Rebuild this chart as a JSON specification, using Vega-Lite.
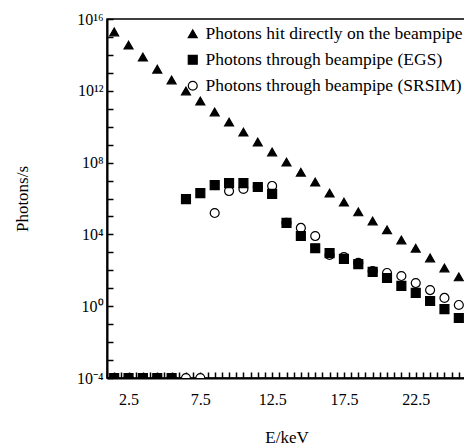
{
  "$schema": "https://vega.github.io/schema/vega-lite/v6.json",
  "width": 359,
  "height": 359,
  "autosize": {"type": "none"},
  "padding": {"left": 107, "top": 19, "right": 0, "bottom": 69},
  "background": "white",
  "config": {
    "view": {"stroke": "black", "strokeWidth": 1.5},
    "font": "Liberation Serif",
    "axis": {
      "grid": false,
      "domainColor": "black",
      "domainWidth": 2,
      "labelColor": "black",
      "titleColor": "black",
      "labelFont": "Liberation Serif",
      "titleFont": "Liberation Serif",
      "labelFontSize": 16,
      "titleFontSize": 17,
      "titleFontWeight": "normal"
    }
  },
  "data": {
    "values": [
      {"E": 1.5, "N": 0.0001, "series": "SRSIM"},
      {"E": 2.5, "N": 0.0001, "series": "SRSIM"},
      {"E": 3.5, "N": 0.0001, "series": "SRSIM"},
      {"E": 4.5, "N": 0.0001, "series": "SRSIM"},
      {"E": 5.5, "N": 0.0001, "series": "SRSIM"},
      {"E": 6.5, "N": 0.0001, "series": "SRSIM"},
      {"E": 7.5, "N": 0.0001, "series": "SRSIM"},
      {"E": 8.5, "N": 1.55e5, "series": "SRSIM"},
      {"E": 9.5, "N": 2.6e6, "series": "SRSIM"},
      {"E": 10.5, "N": 3.4e6, "series": "SRSIM"},
      {"E": 11.5, "N": 4.4e6, "series": "SRSIM"},
      {"E": 12.5, "N": 5.0e6, "series": "SRSIM"},
      {"E": 13.5, "N": 4.4e4, "series": "SRSIM"},
      {"E": 14.5, "N": 2.3e4, "series": "SRSIM"},
      {"E": 15.5, "N": 8.1e3, "series": "SRSIM"},
      {"E": 16.5, "N": 710, "series": "SRSIM"},
      {"E": 17.5, "N": 550, "series": "SRSIM"},
      {"E": 18.5, "N": 260, "series": "SRSIM"},
      {"E": 19.5, "N": 91, "series": "SRSIM"},
      {"E": 20.5, "N": 71, "series": "SRSIM"},
      {"E": 21.5, "N": 48, "series": "SRSIM"},
      {"E": 22.5, "N": 19.5, "series": "SRSIM"},
      {"E": 23.5, "N": 7.9, "series": "SRSIM"},
      {"E": 24.5, "N": 2.9, "series": "SRSIM"},
      {"E": 25.5, "N": 1.17, "series": "SRSIM"},
      {"E": 1.5, "N": 0.0001, "series": "EGS"},
      {"E": 2.5, "N": 0.0001, "series": "EGS"},
      {"E": 3.5, "N": 0.0001, "series": "EGS"},
      {"E": 4.5, "N": 0.0001, "series": "EGS"},
      {"E": 5.5, "N": 0.0001, "series": "EGS"},
      {"E": 6.5, "N": 9.3e5, "series": "EGS"},
      {"E": 7.5, "N": 2.0e6, "series": "EGS"},
      {"E": 8.5, "N": 5.6e6, "series": "EGS"},
      {"E": 9.5, "N": 7.2e6, "series": "EGS"},
      {"E": 10.5, "N": 7.2e6, "series": "EGS"},
      {"E": 11.5, "N": 4.4e6, "series": "EGS"},
      {"E": 12.5, "N": 1.8e6, "series": "EGS"},
      {"E": 13.5, "N": 4.4e4, "series": "EGS"},
      {"E": 14.5, "N": 8.1e3, "series": "EGS"},
      {"E": 15.5, "N": 1.7e3, "series": "EGS"},
      {"E": 16.5, "N": 910, "series": "EGS"},
      {"E": 17.5, "N": 430, "series": "EGS"},
      {"E": 18.5, "N": 220, "series": "EGS"},
      {"E": 19.5, "N": 81, "series": "EGS"},
      {"E": 20.5, "N": 37, "series": "EGS"},
      {"E": 21.5, "N": 13.5, "series": "EGS"},
      {"E": 22.5, "N": 5.5, "series": "EGS"},
      {"E": 23.5, "N": 1.95, "series": "EGS"},
      {"E": 24.5, "N": 0.69, "series": "EGS"},
      {"E": 25.5, "N": 0.22, "series": "EGS"},
      {"E": 1.5, "N": 1.9e15, "series": "direct"},
      {"E": 2.5, "N": 3.5e14, "series": "direct"},
      {"E": 3.5, "N": 7.6e13, "series": "direct"},
      {"E": 4.5, "N": 1.6e13, "series": "direct"},
      {"E": 5.5, "N": 4.0e12, "series": "direct"},
      {"E": 6.5, "N": 9.8e11, "series": "direct"},
      {"E": 7.5, "N": 2.7e11, "series": "direct"},
      {"E": 8.5, "N": 6.6e10, "series": "direct"},
      {"E": 9.5, "N": 1.8e10, "series": "direct"},
      {"E": 10.5, "N": 5.0e9, "series": "direct"},
      {"E": 11.5, "N": 1.4e9, "series": "direct"},
      {"E": 12.5, "N": 3.9e8, "series": "direct"},
      {"E": 13.5, "N": 1.07e8, "series": "direct"},
      {"E": 14.5, "N": 2.9e7, "series": "direct"},
      {"E": 15.5, "N": 8.3e6, "series": "direct"},
      {"E": 16.5, "N": 2.0e6, "series": "direct"},
      {"E": 17.5, "N": 6.3e5, "series": "direct"},
      {"E": 18.5, "N": 1.8e5, "series": "direct"},
      {"E": 19.5, "N": 5.6e4, "series": "direct"},
      {"E": 20.5, "N": 1.8e4, "series": "direct"},
      {"E": 21.5, "N": 4.9e3, "series": "direct"},
      {"E": 22.5, "N": 1.7e3, "series": "direct"},
      {"E": 23.5, "N": 490, "series": "direct"},
      {"E": 24.5, "N": 135, "series": "direct"},
      {"E": 25.5, "N": 43, "series": "direct"}
    ]
  },
  "mark": {"type": "point", "clip": true, "strokeWidth": 1.2, "size": 80, "opacity": 1},
  "encoding": {
    "x": {
      "field": "E",
      "type": "quantitative",
      "scale": {"domain": [1, 26], "nice": false, "zero": false},
      "axis": {
        "title": "E/keV",
        "values": [1, 1.5, 2, 2.5, 3, 3.5, 4, 4.5, 5, 5.5, 6, 6.5, 7, 7.5, 8, 8.5, 9, 9.5, 10, 10.5, 11, 11.5, 12, 12.5, 13, 13.5, 14, 14.5, 15, 15.5, 16, 16.5, 17, 17.5, 18, 18.5, 19, 19.5, 20, 20.5, 21, 21.5, 22, 22.5, 23, 23.5, 24, 24.5, 25, 25.5],
        "labelExpr": "indexof(['2.5','7.5','12.5','17.5','22.5'], format(datum.value, '.1f')) >= 0 ? format(datum.value, '.1f') : ''",
        "ticks": true,
        "tickColor": "black",
        "tickWidth": 1.5,
        "tickSize": -6,
        "labelPadding": 19,
        "labelOverlap": false,
        "titlePadding": 22
      }
    },
    "y": {
      "field": "N",
      "type": "quantitative",
      "scale": {"type": "log", "domain": [0.0001, 1e16], "nice": false},
      "axis": {
        "title": "Photons/s",
        "values": [0.0001, 0.001, 0.01, 0.1, 1, 10, 100, 1000, 10000, 100000, 1000000, 10000000, 100000000, 1000000000, 10000000000, 100000000000, 1000000000000, 10000000000000, 100000000000000, 1000000000000000, 10000000000000000],
        "labelExpr": "round(log(datum.value)/LN10) == 16 ? '10¹⁶' : round(log(datum.value)/LN10) == 12 ? '10¹²' : round(log(datum.value)/LN10) == 8 ? '10⁸' : round(log(datum.value)/LN10) == 4 ? '10⁴' : round(log(datum.value)/LN10) == 0 ? '10⁰' : round(log(datum.value)/LN10) == -4 ? '10⁻⁴' : ''",
        "ticks": true,
        "tickColor": "black",
        "tickWidth": 1.5,
        "tickSize": -6,
        "labelPadding": 10,
        "labelOverlap": false,
        "titlePadding": 45
      }
    },
    "shape": {
      "field": "series",
      "type": "nominal",
      "scale": {"domain": ["direct", "EGS", "SRSIM"], "range": ["triangle-up", "square", "circle"]},
      "legend": {
        "title": null,
        "orient": "none",
        "legendX": 77,
        "legendY": 6,
        "padding": 0,
        "labelFont": "Liberation Serif",
        "labelFontSize": 17.5,
        "labelColor": "black",
        "symbolStrokeWidth": 1.2,
        "symbolSize": 80,
        "rowPadding": 7,
        "labelLimit": 400,
        "labelExpr": "datum.value == 'direct' ? 'Photons hit directly on the beampipe' : datum.value == 'EGS' ? 'Photons through beampipe (EGS)' : 'Photons through beampipe (SRSIM)'"
      }
    },
    "fill": {
      "field": "series",
      "type": "nominal",
      "scale": {"domain": ["direct", "EGS", "SRSIM"], "range": ["black", "black", "white"]},
      "legend": {
        "title": null,
        "orient": "none",
        "legendX": 77,
        "legendY": 6,
        "padding": 0,
        "labelFont": "Liberation Serif",
        "labelFontSize": 17.5,
        "labelColor": "black",
        "symbolStrokeWidth": 1.2,
        "symbolSize": 80,
        "rowPadding": 7,
        "labelLimit": 400,
        "labelExpr": "datum.value == 'direct' ? 'Photons hit directly on the beampipe' : datum.value == 'EGS' ? 'Photons through beampipe (EGS)' : 'Photons through beampipe (SRSIM)'"
      }
    },
    "stroke": {
      "field": "series",
      "type": "nominal",
      "scale": {"domain": ["direct", "EGS", "SRSIM"], "range": ["black", "black", "black"]},
      "legend": {
        "title": null,
        "orient": "none",
        "legendX": 77,
        "legendY": 6,
        "padding": 0,
        "labelFont": "Liberation Serif",
        "labelFontSize": 17.5,
        "labelColor": "black",
        "symbolStrokeWidth": 1.2,
        "symbolSize": 80,
        "rowPadding": 7,
        "labelLimit": 400,
        "labelExpr": "datum.value == 'direct' ? 'Photons hit directly on the beampipe' : datum.value == 'EGS' ? 'Photons through beampipe (EGS)' : 'Photons through beampipe (SRSIM)'"
      }
    }
  }
}
